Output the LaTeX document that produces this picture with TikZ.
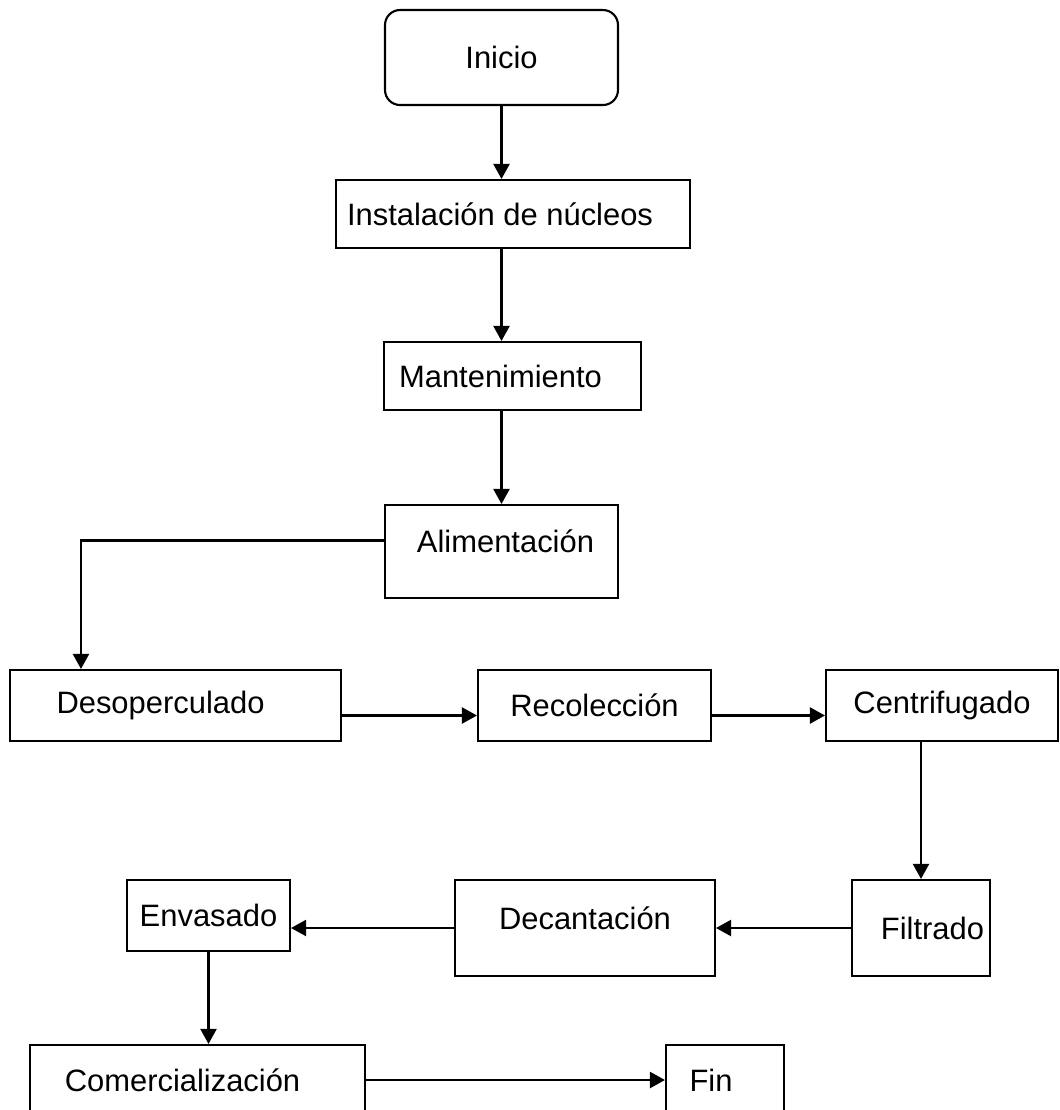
\documentclass[tikz,border=0pt]{standalone}
\usepackage{fontspec}
\setmainfont{Liberation Sans}
\usetikzlibrary{arrows.meta,calc}
\begin{document}
\begin{tikzpicture}[x=0.02cm, y=-0.02cm,
        process/.style={draw, line width=1.2pt, inner sep=0pt, font=\fontsize{17.6}{21}\selectfont},
        flow/.style={line width=1.2pt, -{Triangle[length=0.3cm, width=0.32cm]}}]
        \useasboundingbox (0,0) rectangle (1060,1110);

        \node[style=process, rounded corners=0.3cm, minimum width=4.66cm, minimum height=1.9cm] (inicio) at (501.5, 57.5) {Inicio};
        \node[style=process, minimum width=7.08cm, minimum height=1.36cm] (instal) at (513, 214) {Instalación de núcleos\hspace*{0.52cm}};
        \node[style=process, minimum width=5.14cm, minimum height=1.36cm] (mant) at (512.5, 376) {Mantenimiento\hspace*{0.48cm}};
        \node[style=process, minimum width=4.66cm, minimum height=1.86cm] (alim) at (501.5, 551.5) {\hspace*{0.16cm}\raisebox{0.4cm}{Alimentación}};

        \node[style=process, minimum width=6.62cm, minimum height=1.42cm] (desop) at (175.5, 705.5) {Desoperculado\hspace*{0.6cm}};
        \node[style=process, minimum width=4.66cm, minimum height=1.42cm] (recol) at (594.5, 705.5) {Recolección};
        \node[style=process, minimum width=4.64cm, minimum height=1.42cm] (centr) at (942, 705.5) {Centrifugado};

        \node[style=process, minimum width=2.76cm, minimum height=1.92cm] (filtr) at (921, 928) {\hspace*{0.46cm}Filtrado};
        \node[style=process, minimum width=5.2cm, minimum height=1.92cm] (decan) at (585, 928) {\raisebox{0.4cm}{Decantación}};
        \node[style=process, minimum width=3.26cm, minimum height=1.42cm] (envas) at (208.5, 915.5) {Envasado};

        \node[style=process, minimum width=6.7cm, minimum height=1.4cm] (comerc) at (197.5, 1080) {Comercialización\hspace*{0.6cm}};
        \node[style=process, minimum width=2.36cm, minimum height=1.4cm] (fin) at (725, 1080) {Fin\hspace*{0.56cm}};

        \draw[flow] (inicio.south) -- (inicio.south |- instal.north);
        \draw[flow] (inicio.south |- instal.south) -- (inicio.south |- mant.north);
        \draw[flow] (inicio.south |- mant.south) -- (alim.north);
        \draw[flow] ($(alim.west)+(0,-11)$) -| ($(desop.north west)+(72,0)$);
        \draw[flow] ($(desop.east)+(0,10)$) -- ($(recol.west)+(0,10)$);
        \draw[flow] ($(recol.east)+(0,10)$) -- ($(centr.west)+(0,10)$);
        \draw[flow] (filtr.north |- centr.south) -- (filtr.north);
        \draw[flow] (filtr.west) -- (decan.east);
        \draw[flow] (decan.west) -- (decan.west -| envas.east);
        \draw[flow] (envas.south) -- (envas.south |- comerc.north);
        \draw[flow] (comerc.east) -- (fin.west);
    \end{tikzpicture}
\end{document}
